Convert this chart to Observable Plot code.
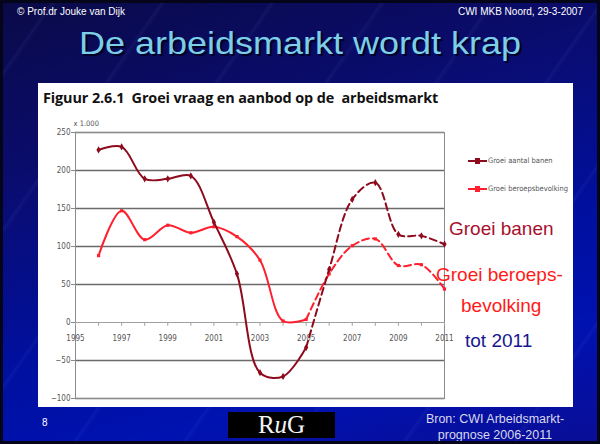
<!DOCTYPE html>
<html>
<head>
<meta charset="utf-8">
<script src="https://cdn.jsdelivr.net/npm/d3@7"></script>
<script src="https://cdn.jsdelivr.net/npm/@observablehq/plot@0.6"></script>
<style>
  html, body { margin: 0; padding: 0; background: #000; }
  #slide {
    position: relative; width: 600px; height: 444px; overflow: hidden;
    box-sizing: border-box; border: 3px solid #05051a;
    background:
      repeating-linear-gradient(125deg, rgba(120,140,255,0) 0px, rgba(120,140,255,0) 38px, rgba(120,140,255,0.07) 40px, rgba(120,140,255,0) 44px, rgba(120,140,255,0) 90px),
      linear-gradient(165deg, #0a0a48 0%, #0a0c6e 30%, #0010a0 62%, #0012b0 80%, #0a0e96 100%);
    font-family: "Liberation Sans", Arial, sans-serif;
  }
  .abs { position: absolute; white-space: nowrap; }
  #panel { position: absolute; left: 35px; top: 80px; width: 535px; height: 324px; background: #fff; }
  #chart { position: absolute; left: 35px; top: 80px; }
  .leg { position: absolute; font-family: "Liberation Sans Narrow", "DejaVu Sans Condensed", sans-serif; font-size: 7.5px; color: #555; white-space: nowrap; }
  .legline { display: inline-block; width: 19px; height: 2px; vertical-align: middle; margin-right: 1px; position: relative; }
  .legline b { position: absolute; left: 7px; top: -2px; width: 5px; height: 6px; }
</style>
</head>
<body>
<div id="slide">
  <div class="abs" style="left:14px; top:3px; font-size:10px; color:#fff;">© Prof.dr Jouke van Dijk</div>
  <div class="abs" style="right:14px; top:3px; font-size:10px; color:#fff;">CWI MKB Noord, 29-3-2007</div>
  <div class="abs" style="left:0; width:594px; text-align:center; top:23px; font-size:36px; line-height:36px; color:#7ccfe6; text-shadow: 2px 2px 1px #000028; transform: scaleY(0.86);">De arbeidsmarkt wordt krap</div>
  <div id="panel"></div>
  <div id="chart"></div>
  <div class="abs" style="left:40px; top:85px; font-family:'Open Sans', 'Noto Sans', sans-serif; font-weight:700; font-size:14.4px; color:#111; letter-spacing:-0.1px;">Figuur 2.6.1&nbsp; Groei vraag en aanbod op de&nbsp; arbeidsmarkt</div>
  <div class="leg" style="left:465px; top:153px;"><span class="legline" style="background:#8e0b1e;"><b style="background:#8e0b1e;"></b></span>Groei aantal banen</div>
  <div class="leg" style="left:465px; top:181px;"><span class="legline" style="background:#ff1f2e;"><b style="background:#ff1f2e;"></b></span>Groei beroepsbevolking</div>
  <div class="abs" style="left:446px; top:215px; font-size:19px; color:#a8102e;">Groei banen</div>
  <div class="abs" style="left:433px; top:261px; font-size:19px; color:#ff1a1a;">Groei beroeps-</div>
  <div class="abs" style="left:458px; top:292px; font-size:19px; color:#ff1a1a;">bevolking</div>
  <div class="abs" style="left:462px; top:327px; font-size:19px; color:#161690;">tot 2011</div>
  <div class="abs" style="left:39px; top:414px; font-size:10px; color:#fff;">8</div>
  <div class="abs" style="left:225px; top:409px; width:107px; height:26px; background:#000; color:#f4f4f4; font-family:'Liberation Serif', 'DejaVu Serif', serif; font-size:25px; text-align:center; line-height:26px;">R<i>u</i>G</div>
  <div class="abs" style="left:412px; top:408px; width:160px; text-align:center; font-size:12.5px; line-height:16px; color:#d8d8ec;">Bron: CWI Arbeidsmarkt-<br>prognose 2006-2011</div>
</div>
<script>
// Data
const years = [1996, 1997, 1998, 1999, 2000, 2001, 2002, 2003, 2004, 2005, 2006, 2007, 2008, 2009, 2010, 2011];
const groeiBanen = [227, 231, 189, 189, 193, 132, 64, -66, -71, -33, 70, 162, 184, 116, 114, 103];
const groeiBeroepsbevolking = [88, 147, 109, 128, 118, 126, 113, 82, 2, 4, 64, 101, 110, 75, 76, 44];
const yTicks = [-100, -50, 0, 50, 100, 150, 200, 250];
const xLabels = [1995, 1997, 1999, 2001, 2003, 2005, 2007, 2009, 2011];
const xTickYears = [1995, 1996, 1997, 1998, 1999, 2000, 2001, 2002, 2003, 2004, 2005, 2006, 2007, 2008, 2009, 2010, 2011];
const lastActual = 2005;

const darkRed = "#8e0b1e";
const brightRed = "#ff1f2e";

const banenRows = years.map((y, i) => ({year: y, value: groeiBanen[i]}));
const beroepsRows = years.map((y, i) => ({year: y, value: groeiBeroepsbevolking[i]}));
const actual = rows => rows.filter(d => d.year <= lastActual);
const forecast = rows => rows.filter(d => d.year >= lastActual);

const chart = Plot.plot({
  width: 535,
  height: 324,
  marginLeft: 37,
  marginRight: 129,
  marginTop: 49,
  marginBottom: 9,
  x: {domain: [1995, 2011], axis: null},
  y: {domain: [-100, 250]},
  style: {background: "transparent", fontFamily: "'Liberation Sans Narrow', 'DejaVu Sans Condensed', sans-serif", overflow: "visible"},
  marks: [
    Plot.gridY(yTicks.filter(d => d !== 0), {stroke: "#6a6a6a", strokeOpacity: 1, strokeWidth: 1.5}),
    Plot.frame({stroke: "#8c8c8c"}),
    Plot.ruleY([0], {stroke: "#a0a0a0"}),
    Plot.ruleX(xTickYears, {x: d => d, y1: 0, y2: -5, stroke: "#a0a0a0"}),
    Plot.axisY(yTicks, {tickSize: 4, stroke: "#8c8c8c", fill: "#555", fontSize: 8, tickPadding: 1, label: null}),
    Plot.text(["x 1.000"], {frameAnchor: "top-left", dx: -2, dy: -12, text: d => d, fill: "#555", fontSize: 7.5, textAnchor: "start"}),
    Plot.text(xLabels, {x: d => d, y: 0, dy: 16, text: d => String(d), fill: "#555", fontSize: 8}),
    // Groei beroepsbevolking
    Plot.line(actual(beroepsRows), {x: "year", y: "value", stroke: brightRed, strokeWidth: 2, curve: "catmull-rom"}),
    Plot.line(forecast(beroepsRows), {x: "year", y: "value", stroke: brightRed, strokeWidth: 2, strokeDasharray: "7,4", curve: "catmull-rom"}),
    Plot.dot(beroepsRows, {x: "year", y: "value", fill: brightRed, symbol: "square", r: 1.8}),
    // Groei aantal banen
    Plot.line(actual(banenRows), {x: "year", y: "value", stroke: darkRed, strokeWidth: 2, curve: "catmull-rom"}),
    Plot.line(forecast(banenRows), {x: "year", y: "value", stroke: darkRed, strokeWidth: 2, strokeDasharray: "7,4", curve: "catmull-rom"}),
    Plot.dot(banenRows, {x: "year", y: "value", fill: darkRed, symbol: "diamond", r: 2.2})
  ]
});
document.getElementById("chart").appendChild(chart);
</script>
</body>
</html>
